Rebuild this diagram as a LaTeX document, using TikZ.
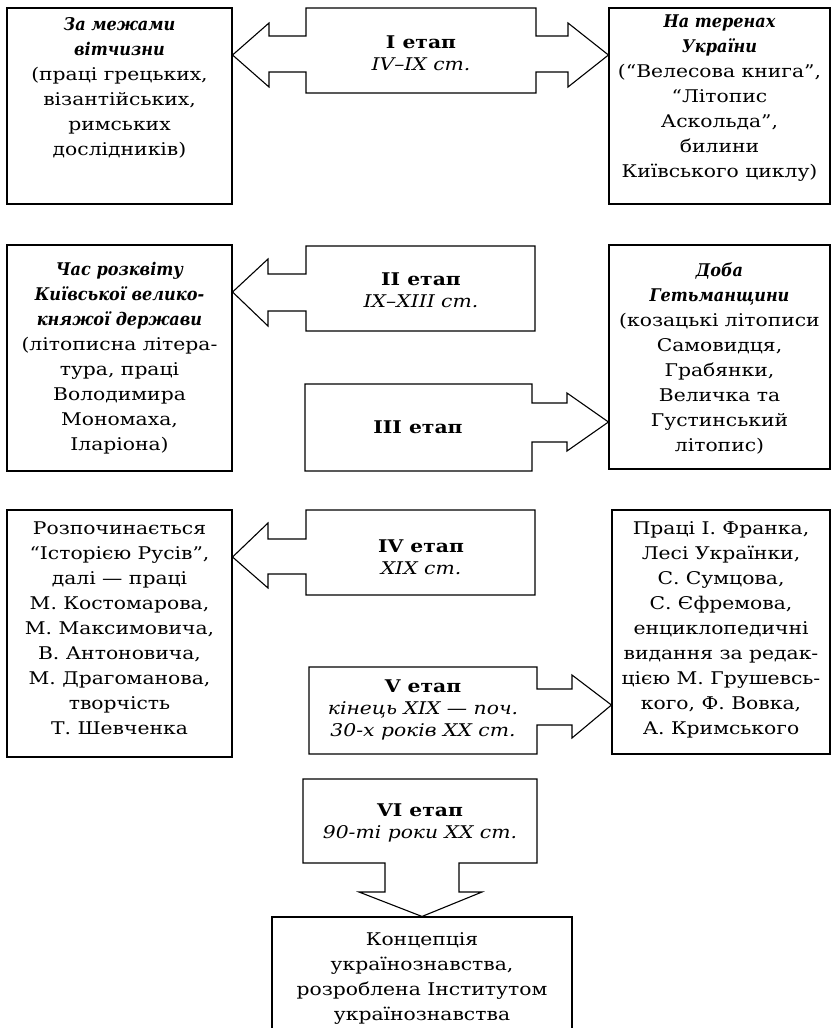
\documentclass[tikz,border=0pt]{standalone}
\usepackage{fontspec}
\setmainfont{DejaVu Serif}[FakeStretch=1.16]
\newfontfamily\hdfont{DejaVu Serif}[FakeStretch=0.92]
\usetikzlibrary{positioning}

\tikzset{
  frame/.style={draw, line width=1.1pt, inner sep=0pt},
  boxtext/.style={align=center, inner sep=0pt, font=\fontsize{17.5}{25}\selectfont},
  stagetext/.style={align=center, inner sep=0pt, font=\fontsize{17.5}{22}\selectfont},
  blockarrow/.style={draw, line width=1.1pt, line join=miter},
}
\newcommand{\hd}[1]{{\hdfont\bfseries\itshape #1}}

\begin{document}
\begin{tikzpicture}[x=1pt, y=-1pt]
  \useasboundingbox (0,0) rectangle (835,1028);

  % boxes
  \node[frame, minimum width=225pt, minimum height=196pt] (boxA) at (119.5,106) {};
  \node[frame, minimum width=221pt, minimum height=196pt] (boxB) at (719.5,106) {};
  \node[frame, minimum width=225pt, minimum height=226pt] (boxC) at (119.5,358) {};
  \node[frame, minimum width=221pt, minimum height=224pt] (boxD) at (719.5,357) {};
  \node[frame, minimum width=225pt, minimum height=247pt] (boxE) at (119.5,633.5) {};
  \node[frame, minimum width=218pt, minimum height=244pt] (boxF) at (721,632) {};
  \node[frame, minimum width=300pt, minimum height=116pt] (boxG) at (422,975) {};

  % box texts
  \node[boxtext, below=10pt of boxA.north] (txtA)
    {\hd{За межами}\\\hd{вітчизни}\\(праці грецьких,\\візантійських,\\римських\\дослідників)};
  \node[boxtext, below=7pt of boxB.north] (txtB)
    {\hd{На теренах}\\\hd{України}\\(“Велесова книга”,\\“Літопис\\Аскольда”,\\билини\\Київського циклу)};
  \node[boxtext, below=18pt of boxC.north] (txtC)
    {\hd{Час розквіту}\\\hd{Київської велико-}\\\hd{княжої держави}\\(літописна літера-\\тура, праці\\Володимира\\Мономаха,\\Іларіона)};
  \node[boxtext, below=18pt of boxD.north] (txtD)
    {\hd{Доба}\\\hd{Гетьманщини}\\(козацькі літописи\\Самовидця,\\Грабянки,\\Величка та\\Густинський\\літопис)};
  \node[boxtext, below=12pt of boxE.north] (txtE)
    {Розпочинається\\“Історією Русів”,\\далі — праці\\М. Костомарова,\\М. Максимовича,\\В. Антоновича,\\М. Драгоманова,\\творчість\\Т. Шевченка};
  \node[boxtext, below=12pt of boxF.north] (txtF)
    {Праці І. Франка,\\Лесі Українки,\\С. Сумцова,\\С. Єфремова,\\енциклопедичні\\видання за редак-\\цією М. Грушевсь-\\кого, Ф. Вовка,\\А. Кримського};
  \node[boxtext, below=16pt of boxG.north] (txtG)
    {Концепція\\українознавства,\\розроблена Інститутом\\українознавства};

  % stage arrows
  \draw[blockarrow] (306,8) -- (536,8) -- (536,36) -- (568,36) -- (568,23)
    -- (boxB.west |- 0,55) -- (568,87) -- (568,72) -- (536,72) -- (536,93)
    -- (306,93) -- (306,72) -- (269,72) -- (269,87) -- (boxA.east |- 0,55)
    -- (269,23) -- (269,36) -- (306,36) -- cycle;
  \draw[blockarrow] (306,246) -- (535,246) -- (535,331) -- (306,331) -- (306,311)
    -- (268,311) -- (268,326) -- (boxC.east |- 0,292) -- (268,259) -- (268,274)
    -- (306,274) -- cycle;
  \draw[blockarrow] (305,384) -- (532,384) -- (532,403) -- (567,403) -- (567,393)
    -- (boxD.west |- 0,422) -- (567,451) -- (567,442) -- (532,442) -- (532,471)
    -- (305,471) -- cycle;
  \draw[blockarrow] (306,510) -- (535,510) -- (535,595) -- (306,595) -- (306,574)
    -- (268,574) -- (268,588) -- (boxE.east |- 0,557) -- (268,523) -- (268,539)
    -- (306,539) -- cycle;
  \draw[blockarrow] (309,667) -- (537,667) -- (537,689) -- (572,689) -- (572,675)
    -- (boxF.west |- 0,705) -- (572,738) -- (572,725) -- (537,725) -- (537,754)
    -- (309,754) -- cycle;
  \draw[blockarrow] (303,779) -- (537,779) -- (537,863) -- (459,863) -- (459,892)
    -- (482,892) -- (boxG.north) -- (359,892) -- (385,892) -- (385,863)
    -- (303,863) -- cycle;

  % stage texts
  \node[stagetext] (stI) at (421,53) {\textbf{I етап}\\\textit{IV–IX ст.}};
  \node[stagetext] (stII) at (421,290) {\textbf{II етап}\\\textit{IX–XIII ст.}};
  \node[stagetext] (stIII) at (418,427) {\textbf{III етап}};
  \node[stagetext] (stIV) at (421,557) {\textbf{IV етап}\\\textit{XIX ст.}};
  \node[stagetext] (stV) at (423,710) {\textbf{V етап}\\\textit{кінець XIX — поч.}\\\textit{30-х років XX ст.}};
  \node[stagetext] (stVI) at (420,823) {\textbf{VI етап}\\\textit{90-ті роки XX ст.}};
\end{tikzpicture}
\end{document}
